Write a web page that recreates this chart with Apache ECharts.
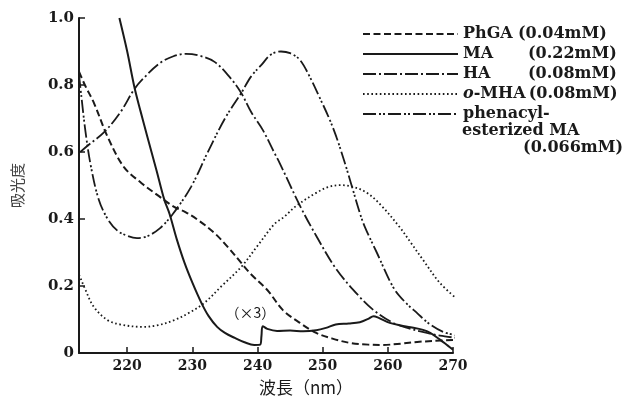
<!DOCTYPE html>
<html>
<head>
<meta charset="utf-8">
<script src="https://cdn.jsdelivr.net/npm/echarts@6/dist/echarts.min.js"></script>
<style>
html,body{margin:0;padding:0;background:#fff;}
#chart{width:625px;height:401px;}
</style>
</head>
<body>
<div id="chart"></div>
<script>
// ---- data (wavelength nm, absorbance) ----
const phgaData = [[212.6,0.84],[213.5,0.80],[214.9,0.746],[217,0.645],[219.5,0.555],[222.2,0.507],[224.6,0.472],[227.2,0.436],[229,0.42],[231,0.395],[233.4,0.358],[235.5,0.315],[237.5,0.269],[239,0.235],[241.5,0.188],[243.9,0.128],[246.5,0.09],[249,0.06],[251.5,0.043],[254.2,0.03],[257,0.025],[259.2,0.024],[262,0.028],[264.5,0.033],[267,0.036],[270,0.039]];
const maData = [[218.8,1.0],[220,0.9],[221.1,0.794],[222,0.725],[223.1,0.645],[224.5,0.545],[225.7,0.457],[226.5,0.415],[227.6,0.34],[228.8,0.269],[230,0.21],[231.4,0.149],[232.5,0.11],[233.8,0.078],[235,0.06],[236.5,0.045],[238,0.032],[239.5,0.024],[240.4,0.025],[240.6,0.05],[240.8,0.08],[241.5,0.072],[243,0.066],[245,0.067],[247,0.065],[249,0.068],[250.5,0.075],[252,0.085],[254,0.088],[255.7,0.092],[257,0.102],[257.8,0.11],[258.6,0.105],[260.3,0.09],[262,0.082],[263.5,0.077],[265.4,0.069],[266.5,0.06],[268,0.04],[269.2,0.022],[270,0.01]];
const haData = [[212.8,0.60],[214,0.62],[216.5,0.66],[219,0.72],[221,0.785],[222.5,0.82],[225,0.865],[227,0.885],[229,0.893],[231,0.888],[233.4,0.869],[235.7,0.824],[237.5,0.776],[239,0.72],[240.8,0.666],[242.6,0.597],[243.4,0.567],[246.5,0.44],[249,0.35],[252.1,0.25],[255.7,0.167],[258,0.125],[260.8,0.09],[263,0.075],[266,0.06],[268,0.052],[270.6,0.045]];
const omhaData = [[212.3,0.245],[212.8,0.225],[213.4,0.197],[214.9,0.137],[217,0.098],[219,0.085],[222.2,0.078],[224.5,0.082],[227.2,0.098],[229.5,0.12],[231.8,0.149],[234.5,0.20],[237.5,0.257],[240,0.32],[242.6,0.385],[244,0.405],[246,0.44],[249,0.478],[250.8,0.495],[252.6,0.501],[254.5,0.497],[256.8,0.478],[259,0.44],[261.8,0.376],[263.5,0.33],[265.4,0.278],[268,0.209],[270.8,0.158]];
const phenacylData = [[212.6,0.83],[213,0.76],[213.6,0.66],[214.4,0.56],[215.6,0.46],[217,0.40],[218.5,0.365],[220,0.35],[221.5,0.343],[223,0.348],[225,0.372],[227,0.415],[229.8,0.496],[232.3,0.597],[235,0.70],[237.5,0.776],[239,0.825],[240.6,0.86],[242,0.89],[243.6,0.90],[245,0.895],[246.5,0.875],[248,0.825],[249.5,0.764],[251,0.70],[252.1,0.645],[253.2,0.58],[254.2,0.516],[255.7,0.418],[256.5,0.375],[258.3,0.30],[260.8,0.197],[262.5,0.155],[264.5,0.119],[266.5,0.085],[268.5,0.063],[271,0.05]];

const seriesNames = ['PhGA','MA','HA','o-MHA','phenacyl-'];
const concLabels = ['(0.04mM)','(0.22mM)','(0.08mM)','(0.08mM)',''];
const phenacylExtra = ['esterized MA','(0.066mM)'];
const yTickLabels = ['0','0.2','0.4','0.6','0.8','1.0'];
const xName = '波長（nm）';
const yName = '吸光度';
const breakLabel = '（×3）';
const breakLabelAt = [238.9, 0.119];

const ink = '#1a1a1a';
const serif = 'DejaVu Serif';
const cjk = 'Noto Sans CJK JP';

function lineSeries(name, data, type, width) {
  return {
    name: name, type: 'line', data: data, smooth: 0.35, symbol: 'none', clip: false,
    lineStyle: { color: ink, width: width, type: type, cap: 'butt' },
    itemStyle: { color: ink },
    emphasis: { disabled: true }
  };
}

const series = [
  lineSeries('PhGA', phgaData, [7, 3.5], 2),
  lineSeries('MA', maData, 'solid', 2),
  lineSeries('HA', haData, [13, 3, 2, 3], 1.8),
  lineSeries('o-MHA', omhaData, [1.6, 2.6], 1.8),
  lineSeries('phenacyl-', phenacylData, [13, 3, 2, 2, 2, 3], 1.8)
];
series[1].markPoint = {
  symbol: 'circle', symbolSize: 1, silent: true,
  itemStyle: { color: 'rgba(0,0,0,0)' },
  label: { show: true, position: 'inside', formatter: breakLabel, color: ink, fontSize: 14, fontFamily: cjk },
  data: [{ coord: breakLabelAt }]
};

const chart = echarts.init(document.getElementById('chart'), null, { renderer: 'canvas' });
const richBase = { fontFamily: serif, fontWeight: 'bold', fontSize: 16, color: ink, lineHeight: 14 };
chart.setOption({
  backgroundColor: '#fff',
  animation: false,
  grid: { left: 79, right: 172, top: 18, bottom: 47 },
  legend: {
    orient: 'vertical', left: 362, top: 26, padding: 0,
    itemWidth: 95, itemHeight: 14, itemGap: 4,
    data: seriesNames,
    selectedMode: false,
    itemStyle: { color: 'rgba(0,0,0,0)', borderWidth: 0, opacity: 0 },
    textStyle: {
      fontFamily: serif, fontWeight: 'bold', fontSize: 16, color: ink, lineHeight: 14,
      rich: {
        n1: Object.assign({}, richBase, { width: 55 }),
        n2: Object.assign({}, richBase, { width: 65 }),
        it: Object.assign({}, richBase, { fontStyle: 'italic' }),
        m: Object.assign({}, richBase),
        v: Object.assign({}, richBase)
      }
    },
    formatter: function (name) {
      const i = seriesNames.indexOf(name);
      const c = concLabels[i];
      if (name === 'PhGA') return '{n1|' + name + '}{v|' + c + '}';
      if (name === 'o-MHA') return '{it|o}{m|-MHA\u2009}{v|' + c + '}';
      if (name === 'phenacyl-') return '{m|' + name + '}';
      return '{n2|' + name + '}{v|' + c + '}';
    }
  },
  graphic: [
    { type: 'text', left: 462, top: 123, silent: true,
      style: { text: phenacylExtra[0], font: 'bold 16px "DejaVu Serif"', fill: ink } },
    { type: 'text', right: 2, top: 140, silent: true,
      style: { text: phenacylExtra[1], font: 'bold 16px "DejaVu Serif"', fill: ink } }
  ],
  xAxis: {
    type: 'value', min: 212.6, max: 270, splitNumber: 6,
    name: xName, nameLocation: 'middle', nameGap: 26,
    nameTextStyle: { fontFamily: cjk, fontSize: 17, color: ink, padding: [0, 0, 0, 80] },
    axisLine: { show: true, onZero: false, lineStyle: { color: ink, width: 2 } },
    axisTick: { show: true, inside: true, length: 6, lineStyle: { color: ink, width: 1.5 } },
    axisLabel: { showMinLabel: false, margin: 6, fontFamily: serif, fontWeight: 'bold', fontSize: 14, color: ink },
    splitLine: { show: false }
  },
  yAxis: {
    type: 'value', min: 0, max: 1, interval: 0.2,
    name: yName, nameLocation: 'middle', nameGap: 54, nameRotate: 90,
    nameTextStyle: { fontFamily: cjk, fontSize: 15, color: '#444' },
    axisLine: { show: true, lineStyle: { color: ink, width: 2 } },
    axisTick: { show: true, inside: true, length: 6, lineStyle: { color: ink, width: 1.5 } },
    axisLabel: {
      margin: 5, fontFamily: serif, fontWeight: 'bold', fontSize: 15, color: ink,
      formatter: function (v) { return yTickLabels[Math.round(v / 0.2)]; }
    },
    splitLine: { show: false }
  },
  series: series
});
</script>
</body>
</html>
